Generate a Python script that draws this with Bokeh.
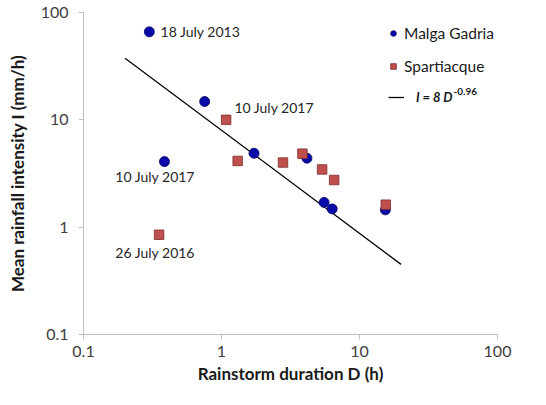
from bokeh.plotting import figure
from bokeh.models import Label, Legend, LegendItem, FixedTicker, ColumnDataSource
from bokeh.core.properties import value
from bokeh.embed import file_html
from bokeh.resources import INLINE

# Malga Gadria (blue circles)
mg_duration = [0.30, 0.755, 0.386, 1.72, 4.16, 5.54, 6.34, 15.4]
mg_intensity = [66.0, 14.8, 4.08, 4.88, 4.39, 1.70, 1.48, 1.45]

# Spartiacque (red squares)
sp_duration = [1.08, 1.31, 2.79, 3.86, 5.36, 6.55, 15.5, 0.353]
sp_intensity = [10.0, 4.14, 4.0, 4.84, 3.45, 2.75, 1.62, 0.85]

# Fitted power law I = 8 D^-0.96 (end points)
fit_duration = [0.2, 20.0]
fit_intensity = [37.5, 0.45]

# Event annotations
ann_text = ["18 July 2013", "10 July 2017", "10 July 2017", "26 July 2016"]
ann_x = [0.362, 1.24, 0.17, 0.17]
ann_y = [66.0, 12.97, 2.96, 0.585]

ticks = [0.1, 1, 10, 100]
tick_labels = {0.1: "0.1", 1: "1", 10: "10", 100: "100"}

FONT = "Lato"

p = figure(width=530, height=389, x_axis_type="log", y_axis_type="log",
           x_range=(0.1, 100), y_range=(0.1, 100),
           output_backend="svg", toolbar_location=None,
           min_border_left=83, min_border_top=12, min_border_right=33, min_border_bottom=55)
p.outline_line_color = None
p.xgrid.visible = False
p.ygrid.visible = False

for ax in (p.xaxis[0], p.yaxis[0]):
    ax.ticker = FixedTicker(ticks=ticks)
    ax.major_label_overrides = {k: v for k, v in tick_labels.items()}
    ax.axis_line_color = "#bfbfbf"
    ax.major_tick_line_color = "#bfbfbf"
    ax.minor_tick_line_color = None
    ax.major_tick_in = 0
    ax.major_tick_out = 5
    ax.major_label_text_font = FONT
    ax.major_label_text_font_size = "16px"
    ax.major_label_text_color = "#404040"
    ax.axis_label_text_font = FONT
    ax.axis_label_text_font_size = "17px"
    ax.axis_label_text_font_style = "bold"
    ax.axis_label_text_color = "#1a1a1a"

p.xaxis.axis_label = "Rainstorm duration D (h)"
p.xaxis.major_label_standoff = 6
p.xaxis.axis_label_standoff = 3
p.yaxis.axis_label = "Mean rainfall intensity I (mm/h)"
p.yaxis.major_label_standoff = 10
p.yaxis.axis_label_standoff = 10

fit = p.line(fit_duration, fit_intensity, line_color="black", line_width=1.3)
mg = p.scatter(mg_duration, mg_intensity, marker="circle", size=10,
               fill_color="#0a0aa8", line_color="#000060", line_width=0.8)
sp = p.scatter(sp_duration, sp_intensity, marker="square", size=9.5,
               fill_color="#c0504d", line_color="#7a2c2a", line_width=0.8)

src = ColumnDataSource(dict(x=ann_x, y=ann_y, t=ann_text))
p.text(x="x", y="y", text="t", source=src, text_font=value(FONT),
       text_font_size="14px", text_color="#262626", text_baseline="middle",
       text_align="left")

leg1 = Legend(items=[LegendItem(label="Malga Gadria", renderers=[mg]),
                     LegendItem(label="Spartiacque", renderers=[sp])],
              location=(303, 259), border_line_color=None, background_fill_alpha=0,
              label_text_font=FONT, label_text_font_size="15.5px",
              label_text_color="#1a1a1a", glyph_width=14, glyph_height=14,
              spacing=15, padding=6, label_standoff=4)
leg2 = Legend(items=[LegendItem(label="I = 8 D", renderers=[fit])],
              location=(305, 229), border_line_color=None, background_fill_alpha=0,
              label_text_font=FONT, label_text_font_size="13px",
              label_text_font_style="bold italic",
              label_text_color="#1a1a1a", glyph_width=16, glyph_height=14,
              padding=6, label_standoff=12)
p.add_layout(leg1)
p.add_layout(leg2)

sup = Label(x=48.0, y=18.3, text="-0.96", text_font=FONT, text_font_size="10px",
            text_font_style="bold", text_color="#1a1a1a", text_baseline="middle",
            text_align="left")
p.add_layout(sup)

open("out.html", "w").write(file_html(p, INLINE))
